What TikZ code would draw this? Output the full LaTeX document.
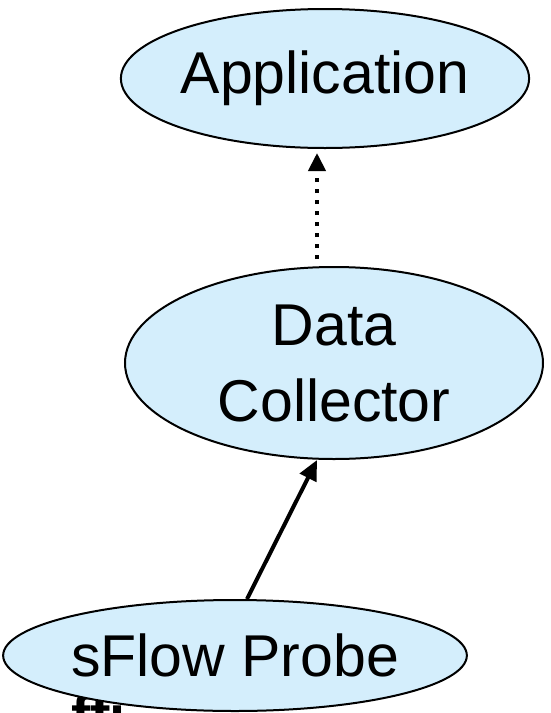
\documentclass[tikz,border=0pt]{standalone}
\usepackage{fontspec}
\setmainfont{Liberation Sans}
\usepackage{tikz}
\usetikzlibrary{shapes.geometric,arrows.meta}
\usepackage{xcolor}
\definecolor{light_blue}{HTML}{D4EEFC}

\begin{document}
\begin{tikzpicture}[x=1pt, y=-1pt,
	blob/.style={ellipse, draw, line width=2pt, fill=light_blue, inner sep=0pt, align=center, font=\fontsize{59}{76}\selectfont},
	dotarrow/.style={line width=4pt, dash pattern=on 4pt off 7pt, -{Triangle[length=18pt, width=17pt]}},
	solidarrow/.style={line width=4pt, -{Triangle[length=20pt, width=18pt]}}]
	\useasboundingbox (0, 0) rectangle (550, 713);
	\node[anchor=base west, inner sep=0pt, font=\fontsize{58}{58}\selectfont\bfseries] (cut) at (71, 736) {ffi};
	\node[blob, minimum width=400pt, minimum height=139pt] (app) at (325, 78.5) {Application};
	\node[blob, minimum width=418pt, minimum height=192pt] (collector) at (334, 363) {Data\\Collector};
	\node[blob, minimum width=430pt, minimum height=111pt] (probe) at (235, 655.5) {sFlow Probe};
	\draw[dotarrow, shorten <=7pt, shorten >=4pt] ([xshift=-17pt]collector.north) -- ([xshift=-8pt]app.south);
	\draw[solidarrow] ([xshift=12pt]probe.north) -- ([xshift=-17pt]collector.south);
\end{tikzpicture}
\end{document}
